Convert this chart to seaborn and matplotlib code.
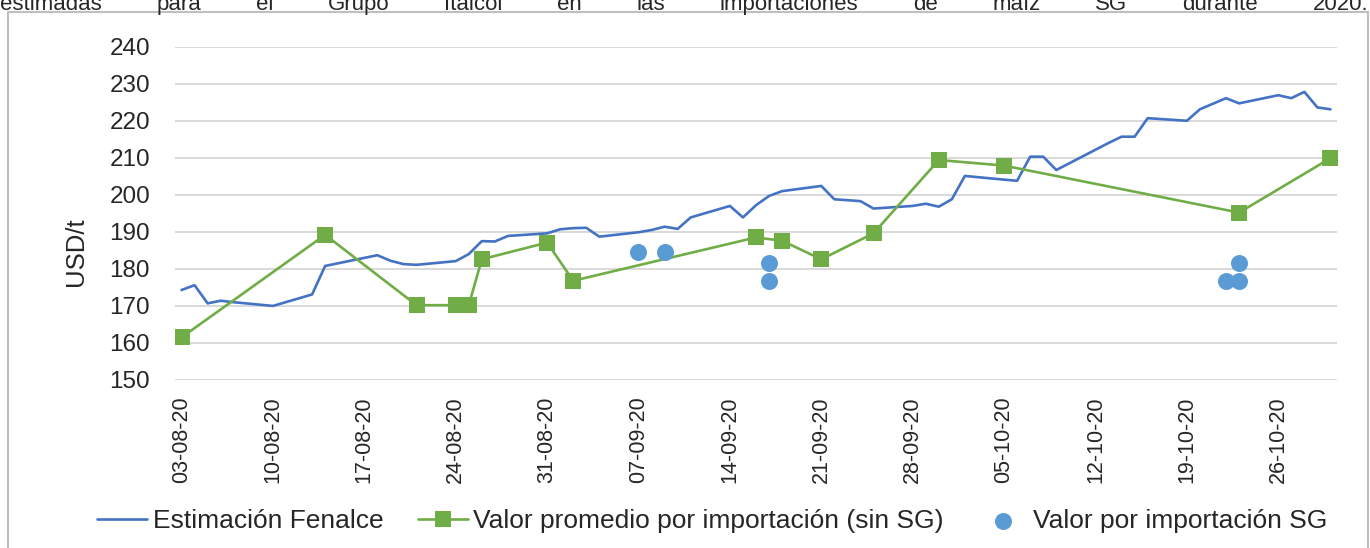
import pandas as pd
import matplotlib
matplotlib.use("Agg")
import matplotlib.pyplot as plt
import seaborn as sns

# Estimación Fenalce (USD/t)
fenalce_dates = [
    "2020-08-03", "2020-08-04", "2020-08-05", "2020-08-06", "2020-08-07",
    "2020-08-10", "2020-08-13", "2020-08-14", "2020-08-18", "2020-08-19",
    "2020-08-20", "2020-08-21", "2020-08-24", "2020-08-25", "2020-08-26",
    "2020-08-27", "2020-08-28", "2020-08-31", "2020-09-01", "2020-09-02",
    "2020-09-03", "2020-09-04", "2020-09-07", "2020-09-08", "2020-09-09",
    "2020-09-10", "2020-09-11", "2020-09-14", "2020-09-15", "2020-09-16",
    "2020-09-17", "2020-09-18", "2020-09-21", "2020-09-22", "2020-09-24",
    "2020-09-25", "2020-09-28", "2020-09-29", "2020-09-30", "2020-10-01",
    "2020-10-02", "2020-10-05", "2020-10-06", "2020-10-07", "2020-10-08",
    "2020-10-09", "2020-10-13", "2020-10-14", "2020-10-15", "2020-10-16",
    "2020-10-19", "2020-10-20", "2020-10-21", "2020-10-22", "2020-10-23",
    "2020-10-26", "2020-10-27", "2020-10-28", "2020-10-29", "2020-10-30",
]
fenalce_values = [
    174.3, 175.6, 170.7, 171.4, 171.0,
    170.0, 173.1, 180.8, 183.7, 182.2,
    181.3, 181.1, 182.1, 184.0, 187.5,
    187.4, 188.9, 189.6, 190.7, 191.0,
    191.1, 188.7, 189.9, 190.5, 191.4,
    190.8, 193.9, 197.0, 193.9, 197.2,
    199.7, 201.0, 202.4, 198.8, 198.3,
    196.3, 197.0, 197.6, 196.8, 198.8,
    205.1, 204.1, 203.8, 210.3, 210.3,
    206.7, 214.0, 215.7, 215.7, 220.7,
    220.0, 223.1, 224.6, 226.1, 224.7,
    226.9, 226.1, 227.8, 223.6, 223.1,
]

# Valor promedio por importación (sin SG)
promedio_dates = [
    "2020-08-03", "2020-08-14", "2020-08-21", "2020-08-24", "2020-08-25",
    "2020-08-26", "2020-08-31", "2020-09-02", "2020-09-16", "2020-09-18",
    "2020-09-21", "2020-09-25", "2020-09-30", "2020-10-05", "2020-10-23",
    "2020-10-30",
]
promedio_values = [
    161.5, 189.2, 170.2, 170.2, 170.2,
    182.6, 187.1, 176.8, 188.5, 187.6,
    182.6, 189.6, 209.4, 207.9, 195.2,
    209.9,
]

# Valor por importación SG
sg_dates = ["2020-09-07", "2020-09-09", "2020-09-17", "2020-09-17",
            "2020-10-22", "2020-10-23", "2020-10-23"]
sg_values = [184.6, 184.6, 181.5, 176.8, 176.8, 181.5, 176.8]

tick_dates = pd.date_range("2020-08-03", "2020-10-26", freq="7D")
header = "estimadas para el Grupo Italcol en las importaciones de maíz SG durante 2020."

sns.set_style("white")
plt.rcParams["font.family"] = ["Liberation Sans", "DejaVu Sans"]

fig = plt.figure(figsize=(13.7, 5.48), dpi=100)
ax = fig.add_axes([175 / 1370, 1 - 380 / 548, 1162 / 1370, 333.3 / 548])

sns.lineplot(x=pd.to_datetime(fenalce_dates), y=fenalce_values, ax=ax,
             color="#4472C4", linewidth=1.9, label="Estimación Fenalce")
sns.lineplot(x=pd.to_datetime(promedio_dates), y=promedio_values, ax=ax,
             color="#70AD47", linewidth=1.9, marker="s", markersize=11,
             markeredgewidth=0, label="Valor promedio por importación (sin SG)")
sns.scatterplot(x=pd.to_datetime(sg_dates), y=sg_values, ax=ax,
                color="#5B9BD5", s=150, linewidth=0, zorder=3,
                label="Valor por importación SG")

ax.set_xlim(pd.Timestamp("2020-08-02 12:00"), pd.Timestamp("2020-10-30 12:00"))
ax.set_ylim(150, 240)
ax.set_yticks(range(150, 241, 10))
ax.set_xticks(tick_dates)
ax.set_xticklabels([d.strftime("%d-%m-%y") for d in tick_dates], rotation=90)
ax.tick_params(axis="y", length=0, pad=18, labelsize=17.5)
ax.tick_params(axis="x", length=0, pad=12, labelsize=15.5)
ax.yaxis.grid(True, color="#D9D9D9", linewidth=1.4)
ax.xaxis.grid(False)
ax.set_axisbelow(True)
sns.despine(ax=ax, left=True, bottom=True)

ax.set_xlabel("")
ax.set_ylabel("USD/t", fontsize=18.5)
ax.yaxis.set_label_coords(-0.075, 0.385)

handles, labels = ax.get_legend_handles_labels()
ax.get_legend().remove()
fig.legend(handles, labels, loc="center", bbox_to_anchor=(0.52, 1 - 521 / 548),
           ncol=3, frameon=False, fontsize=19, handlelength=1.9,
           columnspacing=1.3, handletextpad=0.2)

# outer chart border
fig.add_artist(plt.Rectangle((8 / 1370, -0.05), 1360 / 1370, 1.05 - 12 / 548,
                             transform=fig.transFigure, fill=False,
                             edgecolor="#BFBFBF", linewidth=1.5))

# justified document text cut off at the top
words = header.split()
renderer = fig.canvas.get_renderer()
texts = [fig.text(0, 1 - 10 / 548, w, fontsize=16, va="baseline", ha="left")
         for w in words]
widths = [t.get_window_extent(renderer).width for t in texts]
gap = (1368 - sum(widths)) / (len(words) - 1)
x = 0.0
for t, w in zip(texts, widths):
    t.set_x(x / 1370)
    x += w + gap

fig.savefig("out.png", dpi=100)
